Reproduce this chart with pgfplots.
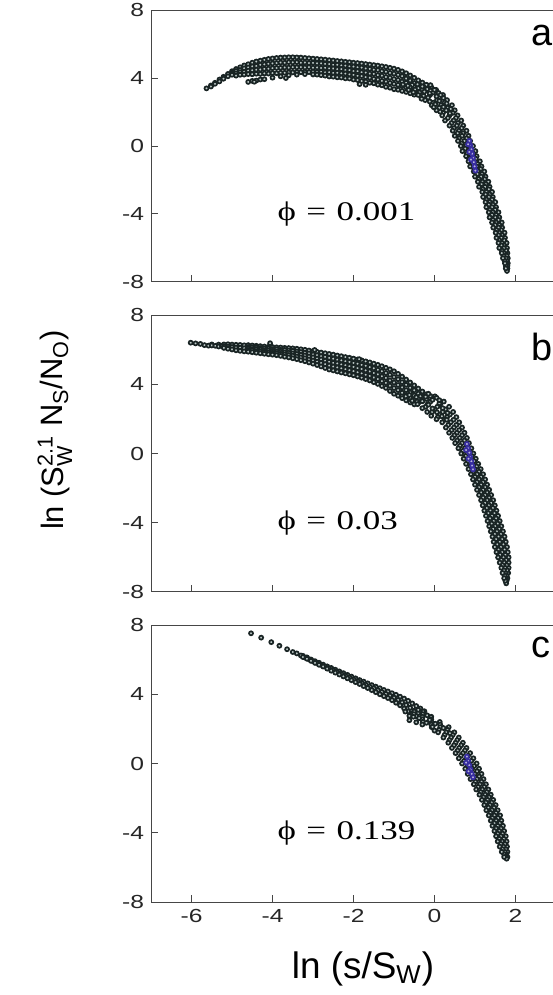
\documentclass[border=0pt]{standalone}
\usepackage{amsmath}
\usepackage{graphicx}
\usepackage{fontspec}
\setmainfont{Liberation Sans}
\newfontfamily\phifont{Liberation Serif}
\usepackage{pgfplots}
\usepackage{pgfplotstable}
\pgfplotsset{compat=1.18}
\definecolor{ptedge}{RGB}{25,36,36}
\definecolor{ptfill}{RGB}{190,202,200}
\definecolor{ptblue}{RGB}{55,45,160}
\definecolor{axgray}{RGB}{70,70,70}

% ---------------- panel a ----------------
\pgfplotstableread{
xx k1 k5 k0 km5 km1
-5.63 3.39 nan nan nan nan
-5.52 3.56 nan 3.50 nan nan
-5.42 3.72 nan 3.66 nan nan
-5.31 3.91 nan 3.80 nan nan
-5.21 4.07 nan 3.96 nan nan
-5.10 4.24 nan 4.10 nan nan
-5.00 4.40 4.31 4.19 nan nan
-4.90 4.53 4.41 4.27 4.14 nan
-4.80 4.63 4.47 4.34 4.19 nan
-4.70 4.74 4.57 4.37 4.20 nan
-4.60 4.81 4.62 4.43 4.23 3.77
-4.50 4.90 4.68 4.45 4.22 3.83
-4.40 4.97 4.71 4.49 4.25 3.85
-4.30 5.02 4.78 4.50 4.24 3.91
-4.20 5.07 4.80 4.54 4.27 3.93
-4.10 5.12 4.84 4.55 4.26 nan
-4.00 5.15 4.86 4.58 4.29 4.02
-3.90 5.18 4.88 4.59 4.28 nan
-3.80 5.20 4.91 4.60 4.31 4.10
-3.70 5.21 4.90 4.62 4.31 nan
-3.60 5.22 4.93 4.61 4.33 4.16
-3.50 5.22 4.92 4.64 4.33 nan
-3.40 5.21 4.93 4.63 4.35 4.20
-3.30 5.20 4.90 4.64 4.34 nan
-3.20 5.18 4.91 4.62 4.37 4.23
-3.10 5.16 4.88 4.64 4.35 nan
-3.00 5.14 4.89 4.61 4.37 4.21
-2.90 5.12 4.86 4.62 4.35 4.20
-2.80 5.10 4.86 4.59 4.36 4.17
-2.70 5.08 4.83 4.60 4.33 4.14
-2.60 5.05 4.82 4.56 4.34 4.09
-2.50 5.03 4.78 4.56 4.30 4.08
-2.40 5.00 4.78 4.52 4.31 4.04
-2.30 4.98 4.74 4.52 4.27 4.03
-2.20 4.95 4.73 4.47 4.26 3.98
-2.10 4.93 4.68 4.46 4.21 3.97
-2.00 4.90 4.67 4.41 4.19 3.91
-1.90 4.88 4.63 4.40 4.13 3.88
-1.80 4.85 4.61 4.34 4.11 3.82
-1.70 4.82 4.56 4.32 4.05 3.79
-1.60 4.79 4.54 4.26 4.02 3.72
-1.50 4.76 4.49 4.24 3.95 3.69
-1.40 4.73 4.47 4.17 3.91 3.61
-1.30 4.69 4.40 4.14 3.83 3.57
-1.20 4.65 4.37 4.06 3.79 3.48
-1.10 4.60 4.30 4.02 3.71 3.43
-1.00 4.55 4.26 3.94 3.66 3.34
-0.90 4.48 4.19 3.89 3.57 3.31
-0.80 4.39 4.11 3.79 3.53 3.24
-0.70 4.28 3.97 3.72 3.45 3.18
-0.60 4.15 3.85 3.61 3.38 3.10
-0.50 4.01 3.70 3.50 3.27 3.02
-0.40 3.86 3.58 3.40 3.15 nan
-0.30 3.73 3.45 3.26 nan nan
-0.20 3.58 3.30 nan nan nan
}\tabFa
\pgfplotstableread{
yy r r5 c l5 l
3.60 -0.20 nan -0.55 nan -0.90
3.45 nan -0.27 nan -0.61 nan
3.30 0.04 nan -0.30 nan -0.64
3.15 nan -0.03 nan -0.37 nan
3.00 0.21 nan -0.11 nan -0.40
2.85 nan 0.13 nan -0.16 nan
2.70 0.31 nan 0.06 nan -0.23
2.55 nan 0.25 nan -0.03 nan
2.40 0.43 nan 0.16 nan -0.07
2.25 nan 0.33 nan 0.12 nan
2.10 0.50 nan 0.29 nan 0.05
1.95 nan 0.45 nan 0.21 nan
1.80 0.57 nan 0.37 nan 0.19
1.65 nan 0.53 nan 0.33 nan
1.50 0.66 nan 0.47 nan 0.26
1.35 nan 0.58 nan 0.42 nan
1.20 0.71 nan 0.55 nan 0.37
1.05 nan 0.67 nan 0.48 nan
0.90 0.79 nan 0.60 nan 0.45
0.75 nan 0.71 nan 0.57 nan
0.60 0.84 nan 0.68 nan 0.50
0.45 nan 0.79 nan 0.61 nan
0.30 0.88 nan 0.74 nan 0.58
0.15 nan 0.85 nan 0.67 nan
0.00 0.95 nan 0.78 nan 0.65
-0.15 nan 0.89 nan 0.76 nan
-0.30 1.01 nan 0.86 nan 0.69
-0.45 nan 0.96 nan 0.80 nan
-0.60 1.04 nan 0.92 nan 0.78
-0.75 nan 1.02 nan 0.86 nan
-0.90 1.12 nan 0.96 nan 0.84
-1.05 nan 1.06 nan 0.94 nan
-1.20 1.16 nan 1.04 nan 0.88
-1.35 nan 1.14 nan 0.98 nan
-1.50 1.23 nan 1.08 nan 0.97
-1.65 nan 1.17 nan 1.06 nan
-1.80 1.26 nan 1.15 nan 1.00
-1.95 nan 1.24 nan 1.09 nan
-2.10 1.33 nan 1.18 nan 1.07
-2.25 nan 1.27 nan 1.16 nan
-2.40 1.36 nan 1.25 nan 1.10
-2.55 nan 1.34 nan 1.19 nan
-2.70 1.42 nan 1.28 nan 1.18
-2.85 nan 1.36 nan 1.26 nan
-3.00 1.44 nan 1.34 nan 1.20
-3.15 nan 1.42 nan 1.28 nan
-3.30 1.50 nan 1.36 nan 1.26
-3.45 nan 1.44 nan 1.34 nan
-3.60 1.52 nan 1.42 nan 1.28
-3.75 nan 1.50 nan 1.36 nan
-3.90 1.58 nan 1.44 nan 1.34
-4.05 nan 1.52 nan 1.42 nan
-4.20 1.60 nan 1.50 nan 1.36
-4.35 nan 1.58 nan 1.44 nan
-4.50 1.66 nan 1.52 nan 1.42
-4.65 nan 1.60 nan 1.50 nan
-4.80 1.67 nan 1.58 nan 1.45
-4.95 nan 1.65 nan 1.53 nan
-5.10 1.73 nan 1.60 nan 1.51
-5.25 nan 1.67 nan 1.58 nan
-5.40 1.74 nan 1.65 nan 1.53
-5.55 nan 1.72 nan 1.60 nan
-5.70 1.78 nan 1.66 nan 1.58
-5.85 nan 1.72 nan 1.65 nan
-6.00 1.79 nan 1.71 nan 1.60
-6.15 nan 1.77 nan 1.66 nan
-6.30 1.80 nan 1.72 nan 1.66
-6.45 nan 1.78 nan 1.70 nan
-6.60 1.81 nan 1.76 nan 1.69
-6.75 nan 1.79 nan 1.73 nan
-6.90 1.81 nan 1.77 nan 1.74
-7.05 nan 1.80 nan 1.76 nan
-7.20 1.80 nan 1.78 nan 1.76
-7.35 nan nan 1.79 nan nan
}\tabSa

% ---------------- panel b ----------------
\pgfplotstableread{
xx k1 k5 k0 km5 km1
-6.02 nan nan 6.40 nan nan
-5.90 nan nan 6.36 nan nan
-5.78 nan nan 6.33 nan nan
-5.68 nan nan 6.26 nan nan
-5.58 nan nan 6.23 nan nan
-5.50 6.30 nan 6.24 nan nan
-5.41 nan nan 6.22 nan nan
-5.33 6.29 nan 6.18 nan nan
-5.25 nan nan 6.21 nan nan
-5.20 6.30 nan 6.20 nan 6.10
-5.10 6.31 nan 6.17 nan 6.05
-5.00 6.29 nan 6.15 nan 6.01
-4.90 6.28 nan 6.12 nan 5.96
-4.80 6.27 nan 6.11 nan 5.93
-4.70 6.25 nan 6.08 nan 5.90
-4.60 6.26 6.15 6.07 5.98 5.88
-4.50 6.24 6.14 6.03 5.95 5.85
-4.40 6.22 6.12 6.02 5.91 5.82
-4.30 6.20 6.09 6.00 5.89 5.79
-4.20 6.18 6.07 5.96 5.87 5.76
-4.10 6.16 6.06 5.95 5.83 5.73
-4.00 6.15 6.03 5.93 5.82 5.71
-3.90 6.13 6.02 5.89 5.79 5.68
-3.80 6.12 5.99 5.88 5.76 5.64
-3.70 6.10 5.98 5.84 5.72 5.59
-3.60 6.09 5.95 5.82 5.69 5.55
-3.50 6.07 5.93 5.78 5.65 5.50
-3.40 6.05 5.89 5.75 5.60 5.45
-3.30 6.02 5.86 5.70 5.55 5.39
-3.20 5.99 5.82 5.66 5.50 5.33
-3.10 5.95 5.78 5.60 5.43 5.26
-3.00 5.91 5.72 5.55 5.37 5.19
-2.90 5.87 5.68 5.48 5.30 5.11
-2.80 5.83 5.62 5.43 5.23 5.03
-2.70 5.79 5.58 5.36 5.16 4.94
-2.60 5.75 5.52 5.30 5.08 4.85
-2.50 5.71 5.48 5.24 5.02 4.80
-2.40 5.66 5.42 5.20 4.97 4.74
-2.30 5.62 5.38 5.14 4.92 4.68
-2.20 5.57 5.33 5.10 4.87 4.63
-2.10 5.53 5.29 5.04 4.81 4.57
-2.00 5.48 5.23 5.00 4.76 4.52
-1.90 5.43 5.19 4.93 4.69 4.45
-1.80 5.38 5.12 4.88 4.63 4.38
-1.70 5.32 5.07 4.80 4.55 4.30
-1.60 5.26 4.99 4.74 4.48 4.22
-1.50 5.19 4.92 4.65 4.39 4.12
-1.40 5.12 4.84 4.57 4.30 4.02
-1.30 5.04 4.75 4.46 4.18 3.90
-1.20 4.95 4.65 4.37 4.08 3.79
-1.10 4.86 4.55 4.22 3.92 3.61
-1.00 4.75 4.42 4.10 3.78 3.45
-0.90 4.60 4.29 3.96 3.66 3.34
-0.80 4.44 4.12 3.82 3.51 3.20
-0.70 4.27 3.97 3.66 3.37 3.07
-0.60 4.10 3.80 3.52 3.23 2.95
-0.50 3.93 3.65 3.35 3.08 2.84
-0.40 3.75 3.46 3.18 2.93 nan
-0.30 3.58 3.30 3.03 nan nan
-0.20 3.42 3.15 nan nan nan
}\tabFb
\pgfplotstableread{
yy r r5 c l5 l
3.30 0.01 nan -0.35 nan -0.71
3.15 nan -0.05 nan -0.40 nan
3.00 0.23 nan -0.10 nan -0.43
2.85 nan 0.14 nan -0.17 nan
2.70 0.36 nan 0.07 nan -0.22
2.55 nan 0.27 nan 0.00 nan
2.40 0.46 nan 0.20 nan -0.06
2.25 nan 0.38 nan 0.13 nan
2.10 0.54 nan 0.31 nan 0.08
1.95 nan 0.47 nan 0.25 nan
1.80 0.61 nan 0.40 nan 0.19
1.65 nan 0.54 nan 0.34 nan
1.50 0.68 nan 0.48 nan 0.28
1.35 nan 0.61 nan 0.42 nan
1.20 0.74 nan 0.55 nan 0.36
1.05 nan 0.68 nan 0.49 nan
0.90 0.80 nan 0.62 nan 0.44
0.75 nan 0.74 nan 0.56 nan
0.60 0.85 nan 0.68 nan 0.51
0.45 nan 0.80 nan 0.63 nan
0.30 0.91 nan 0.75 nan 0.59
0.15 nan 0.86 nan 0.70 nan
0.00 0.96 nan 0.81 nan 0.66
-0.15 nan 0.92 nan 0.77 nan
-0.30 1.02 nan 0.87 nan 0.72
-0.45 nan 0.98 nan 0.83 nan
-0.60 1.08 nan 0.93 nan 0.78
-0.75 nan 1.04 nan 0.89 nan
-0.90 1.14 nan 0.99 nan 0.84
-1.05 nan 1.10 nan 0.95 nan
-1.20 1.20 nan 1.05 nan 0.90
-1.35 nan 1.15 nan 1.00 nan
-1.50 1.25 nan 1.10 nan 0.95
-1.65 nan 1.20 nan 1.05 nan
-1.80 1.30 nan 1.15 nan 1.00
-1.95 nan 1.25 nan 1.10 nan
-2.10 1.35 nan 1.20 nan 1.05
-2.25 nan 1.30 nan 1.15 nan
-2.40 1.40 nan 1.25 nan 1.10
-2.55 nan 1.35 nan 1.20 nan
-2.70 1.45 nan 1.30 nan 1.15
-2.85 nan 1.40 nan 1.25 nan
-3.00 1.49 nan 1.34 nan 1.19
-3.15 nan 1.44 nan 1.29 nan
-3.30 1.53 nan 1.38 nan 1.23
-3.45 nan 1.48 nan 1.33 nan
-3.60 1.57 nan 1.42 nan 1.27
-3.75 nan 1.52 nan 1.37 nan
-3.90 1.61 nan 1.46 nan 1.31
-4.05 nan 1.56 nan 1.41 nan
-4.20 1.65 nan 1.50 nan 1.35
-4.35 nan 1.60 nan 1.45 nan
-4.50 1.69 nan 1.54 nan 1.39
-4.65 nan 1.64 nan 1.49 nan
-4.80 1.73 nan 1.58 nan 1.43
-4.95 nan 1.67 nan 1.52 nan
-5.10 1.76 nan 1.61 nan 1.46
-5.25 nan 1.70 nan 1.55 nan
-5.40 1.79 nan 1.64 nan 1.49
-5.55 nan 1.73 nan 1.58 nan
-5.70 1.81 nan 1.67 nan 1.53
-5.85 nan 1.75 nan 1.62 nan
-6.00 1.83 nan 1.70 nan 1.57
-6.15 nan 1.77 nan 1.65 nan
-6.30 1.83 nan 1.72 nan 1.61
-6.45 nan 1.78 nan 1.68 nan
-6.60 1.83 nan 1.74 nan 1.65
-6.75 nan 1.79 nan 1.71 nan
-6.90 1.82 nan 1.75 nan 1.68
-7.05 nan 1.78 nan 1.73 nan
-7.20 1.80 nan 1.76 nan 1.72
-7.35 nan 1.78 nan 1.75 nan
-7.50 nan nan 1.77 nan nan
}\tabSb

% ---------------- panel c ----------------
\pgfplotstableread{
xx k1 k0 km1
-4.53 nan 7.52 nan
-4.28 nan 7.27 nan
-4.03 nan 7.01 nan
-3.83 nan 6.80 nan
-3.64 nan 6.60 nan
-3.50 nan 6.44 nan
-3.40 nan 6.36 nan
-3.30 nan 6.24 nan
-3.25 6.22 nan 6.15
-3.20 nan 6.12 nan
-3.15 6.13 nan 6.05
-3.10 nan 6.02 nan
-3.05 6.01 nan 5.93
-3.00 nan 5.91 nan
-2.95 5.91 nan 5.81
-2.90 nan 5.81 nan
-2.85 5.82 nan 5.70
-2.80 nan 5.70 nan
-2.75 5.71 nan 5.60
-2.70 nan 5.60 nan
-2.65 5.61 nan 5.48
-2.60 nan 5.49 nan
-2.55 5.52 nan 5.36
-2.50 nan 5.39 nan
-2.45 5.42 nan 5.25
-2.40 nan 5.28 nan
-2.35 5.32 nan 5.14
-2.30 nan 5.18 nan
-2.25 5.22 nan 5.03
-2.20 nan 5.07 nan
-2.15 5.12 nan 4.92
-2.10 nan 4.97 nan
-2.05 5.02 nan 4.81
-2.00 nan 4.86 nan
-1.95 4.92 nan 4.70
-1.90 nan 4.76 nan
-1.85 4.82 nan 4.59
-1.80 nan 4.65 nan
-1.75 4.73 nan 4.47
-1.70 nan 4.55 nan
-1.65 4.63 nan 4.36
-1.60 nan 4.44 nan
-1.55 4.53 nan 4.24
-1.50 nan 4.34 nan
-1.45 4.44 nan 4.12
-1.40 nan 4.23 nan
-1.35 4.35 nan 4.00
-1.30 nan 4.13 nan
-1.25 4.25 nan 3.89
-1.20 nan 4.02 nan
-1.15 4.16 nan 3.78
-1.10 nan 3.92 nan
-1.05 4.06 nan 3.66
-1.00 nan 3.80 nan
-0.95 3.97 nan 3.51
-0.90 nan 3.67 nan
-0.85 3.86 nan 3.36
-0.80 nan 3.53 nan
-0.75 3.75 nan 3.18
-0.70 nan 3.38 nan
-0.65 3.62 nan 3.01
-0.60 nan 3.22 nan
-0.55 3.47 nan 2.88
-0.50 nan 3.05 nan
-0.45 3.32 nan 2.74
-0.40 nan 2.92 nan
-0.35 3.18 nan nan
-0.25 3.02 nan nan
}\tabFc
\pgfplotstableread{
yy r r5 c l5 l
3.00 -0.28 nan -0.50 nan -0.72
2.85 nan -0.29 nan -0.51 nan
2.70 -0.08 nan -0.30 nan -0.52
2.55 nan -0.08 nan -0.30 nan
2.40 0.13 nan -0.08 nan -0.29
2.25 nan 0.14 nan -0.08 nan
2.10 0.35 nan 0.14 nan -0.07
1.95 nan 0.32 nan 0.11 nan
1.80 0.49 nan 0.29 nan 0.09
1.65 nan 0.45 nan 0.25 nan
1.50 0.60 nan 0.41 nan 0.22
1.35 nan 0.56 nan 0.37 nan
1.20 0.70 nan 0.52 nan 0.34
1.05 nan 0.66 nan 0.48 nan
0.90 0.79 nan 0.61 nan 0.43
0.75 nan 0.75 nan 0.57 nan
0.60 0.88 nan 0.70 nan 0.52
0.45 nan 0.83 nan 0.65 nan
0.30 0.96 nan 0.78 nan 0.60
0.15 nan 0.91 nan 0.73 nan
0.00 1.04 nan 0.86 nan 0.68
-0.15 nan 0.98 nan 0.81 nan
-0.30 1.10 nan 0.93 nan 0.76
-0.45 nan 1.05 nan 0.88 nan
-0.60 1.16 nan 0.99 nan 0.82
-0.75 nan 1.10 nan 0.94 nan
-0.90 1.21 nan 1.05 nan 0.89
-1.05 nan 1.16 nan 1.01 nan
-1.20 1.27 nan 1.12 nan 0.97
-1.35 nan 1.23 nan 1.08 nan
-1.50 1.33 nan 1.18 nan 1.03
-1.65 nan 1.29 nan 1.14 nan
-1.80 1.39 nan 1.25 nan 1.11
-1.95 nan 1.35 nan 1.21 nan
-2.10 1.45 nan 1.31 nan 1.17
-2.25 nan 1.41 nan 1.27 nan
-2.40 1.51 nan 1.37 nan 1.23
-2.55 nan 1.47 nan 1.33 nan
-2.70 1.56 nan 1.42 nan 1.28
-2.85 nan 1.52 nan 1.38 nan
-3.00 1.62 nan 1.48 nan 1.34
-3.15 nan 1.57 nan 1.43 nan
-3.30 1.65 nan 1.52 nan 1.39
-3.45 nan 1.61 nan 1.48 nan
-3.60 1.69 nan 1.56 nan 1.43
-3.75 nan 1.64 nan 1.52 nan
-3.90 1.72 nan 1.60 nan 1.48
-4.05 nan 1.68 nan 1.56 nan
-4.20 1.76 nan 1.64 nan 1.52
-4.35 nan 1.71 nan 1.60 nan
-4.50 1.78 nan 1.67 nan 1.56
-4.65 nan 1.74 nan 1.64 nan
-4.80 1.79 nan 1.70 nan 1.61
-4.95 nan 1.76 nan 1.68 nan
-5.10 1.80 nan 1.73 nan 1.66
-5.25 nan 1.77 nan 1.72 nan
-5.40 1.80 nan 1.76 nan 1.72
-5.50 nan nan 1.78 nan nan
}\tabSc

\pgfplotsset{
  panel/.style={
    scale only axis, width=202.5bp,
    xmin=-7, xmax=3, ymin=-8, ymax=8,
    xtick={-6,-4,-2,0,2}, ytick={-8,-4,0,4,8},
    tick pos=left,
    tick align=inside,
    major tick length=3.5bp,
    axis line style={axgray, line width=0.5bp},
    every tick/.append style={axgray, line width=0.5bp},
    /pgf/number format/assume math mode=true,
    yticklabel={\scalebox{1.3}[1]{\pgfmathprintnumber{\tick}}},
    tick label style={font=\fontsize{9.5}{11}\selectfont, text=black!85},
  },
  pts/.style={only marks, mark=*, mark size=1.0bp,
    mark options={draw=ptedge, fill=ptfill, line width=0.85bp}},
  bpts/.style={only marks, mark=*, mark size=1.0bp,
    mark options={draw=ptblue, fill=ptblue!35, line width=0.85bp}},
}
\tikzset{
  letter/.style={anchor=base west, font=\fontsize{19}{23}\selectfont},
  phinote/.style={anchor=west, font=\phifont\fontsize{13.5}{16}\selectfont},
}

\begin{document}
\begin{tikzpicture}
\path[use as bounding box] (0,0) rectangle (276.5bp,497.5bp);
\clip (0,0) rectangle (276.5bp,497.5bp);

% ---- panel a ----
\begin{axis}[panel, at={(75.5bp,356.5bp)}, height=136bp, xticklabel={\phantom{0}}]
\foreach \col in {k1,k5,k0,km5,km1}{
  \addplot[pts] table[x=xx, y=\col] {\tabFa};
}
\foreach \col in {r,r5,c,l5,l}{
  \addplot[pts] table[x=\col, y=yy] {\tabSa};
}
\addplot[pts] coordinates {(-3.67,4.00) (-4.45,3.78) (-1.85,3.64) (-1.70,3.60)
  (-0.78,3.62) (-0.66,3.55) (-0.42,3.63) (-0.08,3.46) (-0.48,3.32) (-0.18,3.35)
  (-0.52,3.16) (-0.25,3.20) (0.10,3.12) (-0.27,2.95) (0.05,2.92) (-0.32,2.78)
  (0.22,2.82) (-0.12,2.62) (0.12,2.65) (0.02,2.45) (0.30,2.50) (-0.02,2.28)
  (0.22,2.30) (0.40,2.18) (0.14,2.02) (0.38,1.92)
  (-0.10,3.58) (-0.30,3.50) (0.00,3.30) (-0.12,3.10) (0.15,3.00)};
\addplot[bpts] coordinates {(0.86,0.30) (0.88,0.05) (0.91,-0.20) (0.93,-0.45) (0.95,-0.70) (0.97,-0.95) (0.99,-1.20) (1.01,-1.45) (0.83,0.10) (0.86,-0.35) (0.90,-0.80)};
\node[letter] at (axis cs:2.22,5.94) {a};
\node[phinote] at (axis cs:-4.05,-4) {\scalebox{1.3}[1]{ϕ\hspace{0.3em}=\hspace{0.3em}0.001}};
\end{axis}

% ---- panel b ----
\begin{axis}[panel, at={(75.5bp,201.5bp)}, height=138.5bp, xticklabel={\phantom{0}}]
\foreach \col in {k1,k5,k0,km5,km1}{
  \addplot[pts] table[x=xx, y=\col] {\tabFb};
}
\foreach \col in {r,r5,c,l5,l}{
  \addplot[pts] table[x=\col, y=yy] {\tabSb};
}
\addplot[pts] coordinates {(-4.06,6.37) (-2.96,5.98) (-1.86,5.45)
  (-0.62,3.38) (-0.45,3.25) (-0.22,3.28) (-0.55,3.05) (-0.30,3.02) (-0.05,3.10)
  (-0.42,2.85) (-0.15,2.82) (0.12,2.90) (-0.30,2.62) (-0.05,2.60) (0.20,2.62)
  (-0.18,2.40) (0.06,2.38) (0.32,2.35) (-0.08,2.18) (0.18,2.15) (0.05,1.98) (0.30,1.95)
  (-0.10,3.32) (0.05,3.22) (-0.15,3.45) (0.12,3.08)};
\addplot[bpts] coordinates {(0.80,0.55) (0.83,0.30) (0.86,0.05) (0.88,-0.20) (0.91,-0.45) (0.93,-0.70) (0.95,-0.92) (0.78,0.20) (0.84,-0.30)};
\node[letter] at (axis cs:2.22,5.40) {b};
\node[phinote] at (axis cs:-4.05,-4) {\scalebox{1.3}[1]{ϕ\hspace{0.3em}=\hspace{0.3em}0.03}};
\end{axis}

% ---- panel c ----
\begin{axis}[panel, at={(75.5bp,46.5bp)}, height=138.5bp,
  xticklabel={\scalebox{1.3}[1]{\pgfmathprintnumber{\tick}}}]
\foreach \col in {k1,k0,km1}{
  \addplot[pts] table[x=xx, y=\col] {\tabFc};
}
\foreach \col in {r,r5,c,l5,l}{
  \addplot[pts] table[x=\col, y=yy] {\tabSc};
}
\addplot[pts] coordinates {(-0.62,2.50) (-0.45,2.38) (-0.30,2.25) (-0.40,3.10)
  (-0.62,2.75) (-0.38,2.62) (-0.18,2.78) (-0.12,2.52) (-0.20,2.35) (0.02,2.30)
  (-0.05,2.12) (0.22,2.05) (0.00,1.90) (0.38,1.75)};
\addplot[bpts] coordinates {(0.80,0.40) (0.83,0.15) (0.86,-0.10) (0.89,-0.35) (0.92,-0.60) (0.95,-0.80) (0.78,0.05) (0.84,-0.45)};
\node[letter] at (axis cs:2.22,6.10) {c};
\node[phinote] at (axis cs:-4.05,-4) {\scalebox{1.3}[1]{ϕ\hspace{0.3em}=\hspace{0.3em}0.139}};
\end{axis}

\node[rotate=90, anchor=base, font=\fontsize{15.5}{18}\selectfont] at (31.5bp,282.5bp)
  {ln (S$^{\text{2.1}}_{\text{W}}$ N$_{\text{S}}$/N$_{\text{O}}$)};
\node[anchor=base, font=\fontsize{18.5}{22}\selectfont] at (181.5bp,8.5bp)
  {ln (s/S$_{\text{W}}$)};
\end{tikzpicture}
\end{document}
